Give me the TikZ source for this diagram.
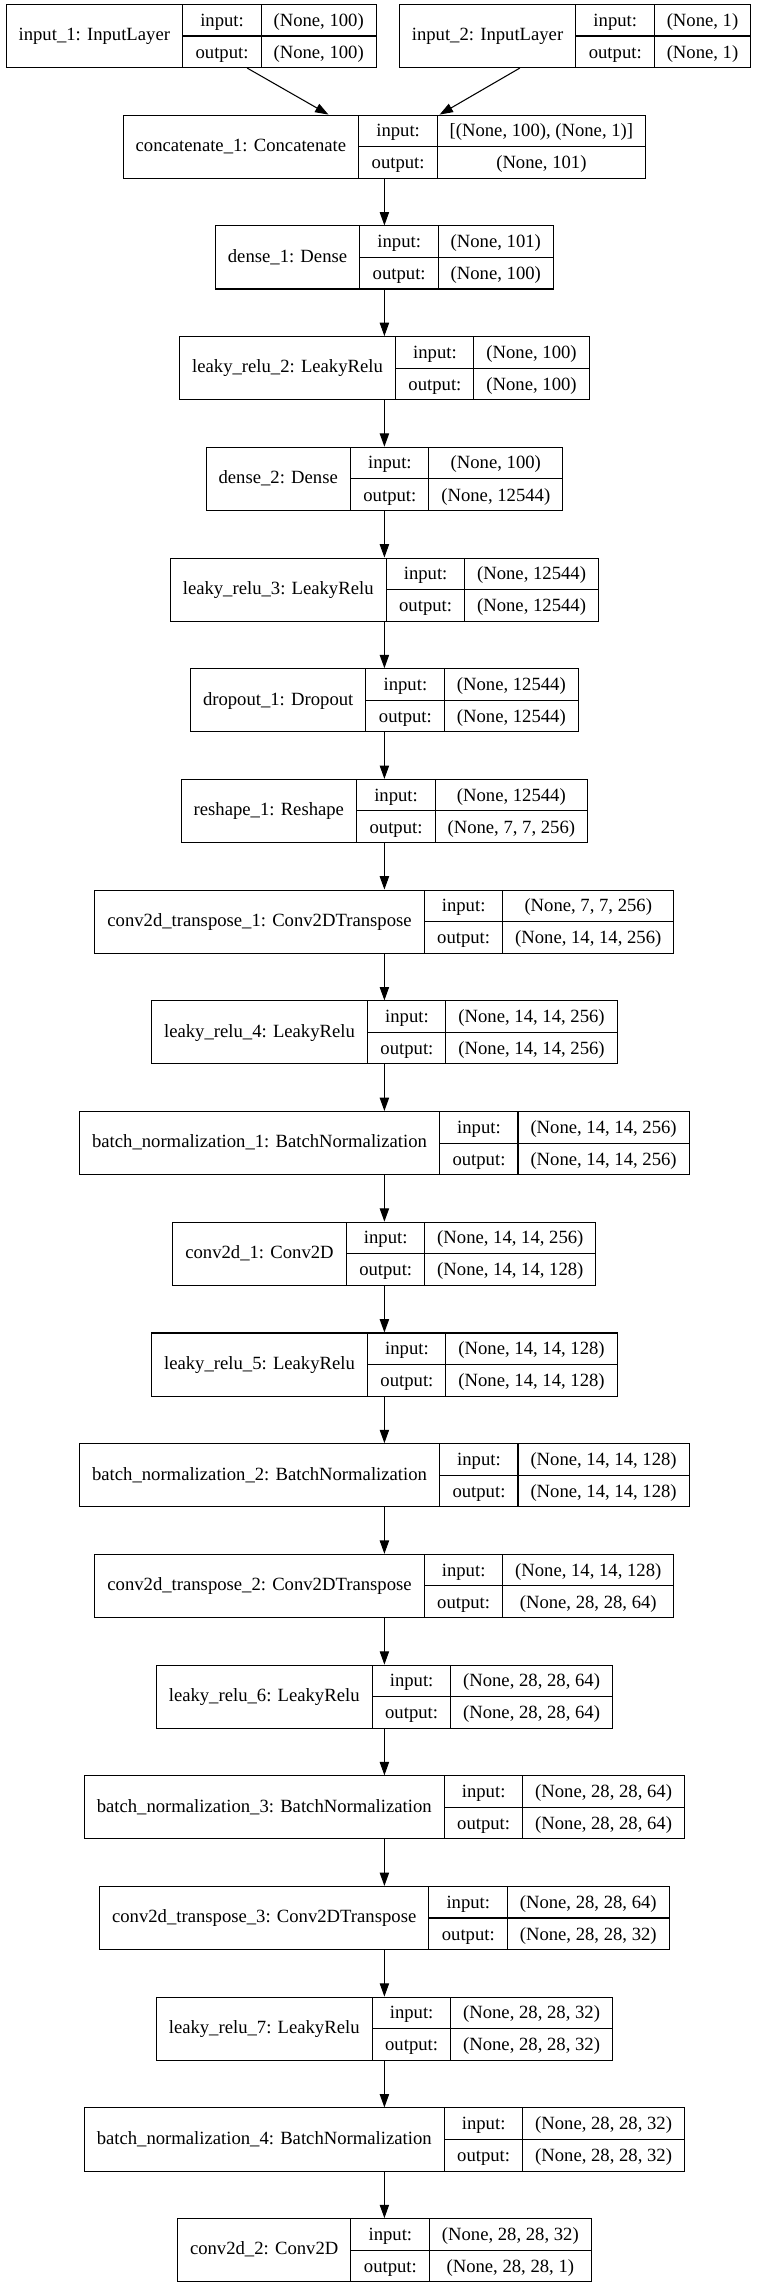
\documentclass[tikz,border=0pt]{standalone}
\usepackage{fontspec}
\setmainfont{Liberation Serif}
\usepackage{tikz}
\usetikzlibrary{arrows.meta}
\newcommand{\rec}[3]{%
  {\setlength{\tabcolsep}{9.4pt}\setlength{\arrayrulewidth}{0.8pt}%
   \renewcommand{\arraystretch}{1.368}%
   \begin{tabular}{c|@{}c@{}}#1 &
     \begin{tabular}{c|c}input: & #2\\\hline output: & #3\end{tabular}%
   \end{tabular}}}
\tikzset{
    layer/.style = {rectangle, draw=black, line width=0.8pt, inner sep=0pt, fill=white,
                    font=\fontsize{14}{17}\selectfont},
    edgen/.style = {-{Triangle[length=10pt,width=7pt]}, line width=0.8pt}
}
\begin{document}
\begin{tikzpicture}[x=1pt,y=1pt]
\useasboundingbox (0,0) rectangle (567.75,-1715.25);
%
\node[layer] at (143.4, -27) (in1) {\rec{input\_1: InputLayer}{(None, 100)}{(None, 100)}};
\node[layer] at (431.3, -27) (in2) {\rec{input\_2: InputLayer}{(None, 1)}{(None, 1)}};
\node[layer] at (288.3, -110.0) (cat) {\rec{concatenate\_1: Concatenate}{[(None, 100), (None, 1)]}{(None, 101)}};
\node[layer] at (288.3, -193.1) (d1) {\rec{dense\_1: Dense}{(None, 101)}{(None, 100)}};
\node[layer] at (288.3, -276.1) (lr2) {\rec{leaky\_relu\_2: LeakyRelu}{(None, 100)}{(None, 100)}};
\node[layer] at (288.3, -359.1) (d2) {\rec{dense\_2: Dense}{(None, 100)}{(None, 12544)}};
\node[layer] at (288.3, -442.2) (lr3) {\rec{leaky\_relu\_3: LeakyRelu}{(None, 12544)}{(None, 12544)}};
\node[layer] at (288.3, -525.2) (do1) {\rec{dropout\_1: Dropout}{(None, 12544)}{(None, 12544)}};
\node[layer] at (288.3, -608.2) (rs1) {\rec{reshape\_1: Reshape}{(None, 12544)}{(None, 7, 7, 256)}};
\node[layer] at (288.3, -691.2) (ct1) {\rec{conv2d\_transpose\_1: Conv2DTranspose}{(None, 7, 7, 256)}{(None, 14, 14, 256)}};
\node[layer] at (288.3, -774.3) (lr4) {\rec{leaky\_relu\_4: LeakyRelu}{(None, 14, 14, 256)}{(None, 14, 14, 256)}};
\node[layer] at (288.3, -857.3) (bn1) {\rec{batch\_normalization\_1: BatchNormalization}{(None, 14, 14, 256)}{(None, 14, 14, 256)}};
\node[layer] at (288.3, -940.3) (cv1) {\rec{conv2d\_1: Conv2D}{(None, 14, 14, 256)}{(None, 14, 14, 128)}};
\node[layer] at (288.3, -1023.4) (lr5) {\rec{leaky\_relu\_5: LeakyRelu}{(None, 14, 14, 128)}{(None, 14, 14, 128)}};
\node[layer] at (288.3, -1106.4) (bn2) {\rec{batch\_normalization\_2: BatchNormalization}{(None, 14, 14, 128)}{(None, 14, 14, 128)}};
\node[layer] at (288.3, -1189.4) (ct2) {\rec{conv2d\_transpose\_2: Conv2DTranspose}{(None, 14, 14, 128)}{(None, 28, 28, 64)}};
\node[layer] at (288.3, -1272.5) (lr6) {\rec{leaky\_relu\_6: LeakyRelu}{(None, 28, 28, 64)}{(None, 28, 28, 64)}};
\node[layer] at (288.3, -1355.5) (bn3) {\rec{batch\_normalization\_3: BatchNormalization}{(None, 28, 28, 64)}{(None, 28, 28, 64)}};
\node[layer] at (288.3, -1438.5) (ct3) {\rec{conv2d\_transpose\_3: Conv2DTranspose}{(None, 28, 28, 64)}{(None, 28, 28, 32)}};
\node[layer] at (288.3, -1521.5) (lr7) {\rec{leaky\_relu\_7: LeakyRelu}{(None, 28, 28, 32)}{(None, 28, 28, 32)}};
\node[layer] at (288.3, -1604.6) (bn4) {\rec{batch\_normalization\_4: BatchNormalization}{(None, 28, 28, 32)}{(None, 28, 28, 32)}};
\node[layer] at (288.3, -1687.6) (cv2) {\rec{conv2d\_2: Conv2D}{(None, 28, 28, 32)}{(None, 28, 28, 1)}};
%
\draw[edgen] (in1) edge (cat);
\draw[edgen] (in2) edge (cat);
\draw[edgen] (cat) edge (d1);
\draw[edgen] (d1) edge (lr2);
\draw[edgen] (lr2) edge (d2);
\draw[edgen] (d2) edge (lr3);
\draw[edgen] (lr3) edge (do1);
\draw[edgen] (do1) edge (rs1);
\draw[edgen] (rs1) edge (ct1);
\draw[edgen] (ct1) edge (lr4);
\draw[edgen] (lr4) edge (bn1);
\draw[edgen] (bn1) edge (cv1);
\draw[edgen] (cv1) edge (lr5);
\draw[edgen] (lr5) edge (bn2);
\draw[edgen] (bn2) edge (ct2);
\draw[edgen] (ct2) edge (lr6);
\draw[edgen] (lr6) edge (bn3);
\draw[edgen] (bn3) edge (ct3);
\draw[edgen] (ct3) edge (lr7);
\draw[edgen] (lr7) edge (bn4);
\draw[edgen] (bn4) edge (cv2);
\end{tikzpicture}
\end{document}
